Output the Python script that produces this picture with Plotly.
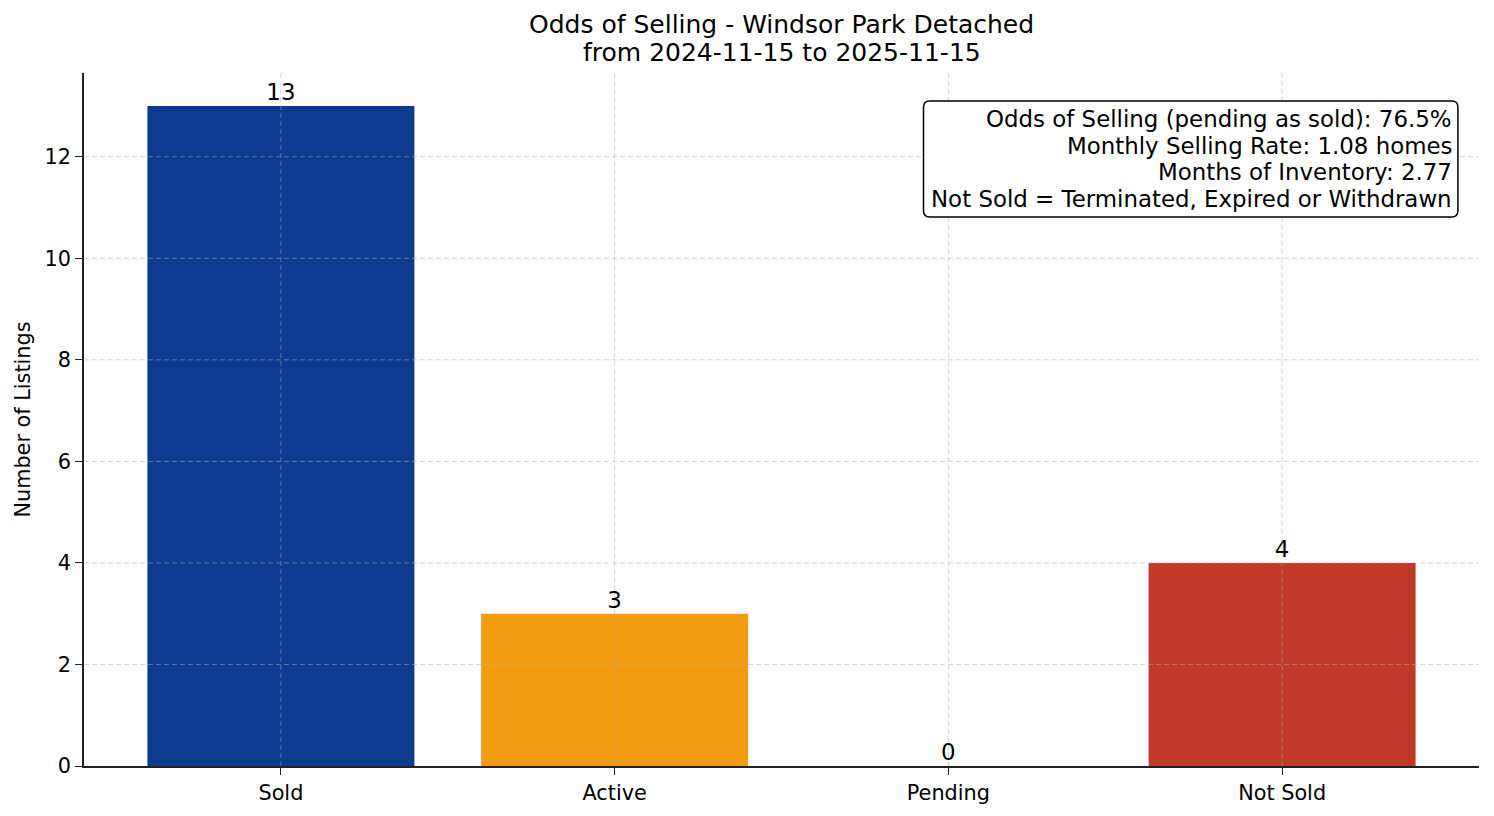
import plotly.graph_objects as go

# listing counts by status
statuses = ['Sold', 'Active', 'Pending', 'Not Sold']
counts = [13, 3, 0, 4]
bar_colors = ['#0b3a8e', '#f39c12', '#9b59b6', '#c0392b']

y_ticks = [0, 2, 4, 6, 8, 10, 12]

title_line1 = 'Odds of Selling - Windsor Park Detached'
title_line2 = 'from 2024-11-15 to 2025-11-15'

stats_lines = [
    'Odds of Selling (pending as sold): 76.5%',
    'Monthly Selling Rate: 1.08 homes',
    'Months of Inventory: 2.77',
    'Not Sold = Terminated, Expired or Withdrawn',
]

FONT = 'DejaVu Sans'

fig = go.Figure()
fig.add_trace(go.Bar(x=statuses, y=counts, width=0.8,
                     marker=dict(color=bar_colors, line=dict(width=0)),
                     showlegend=False, hoverinfo='x+y'))
# value labels above each bar (a zero bar still gets its label)
fig.add_trace(go.Scatter(x=statuses, y=counts, mode='text',
                         text=[str(c) for c in counts], textposition='top center',
                         textfont=dict(family=FONT, size=22.9, color='black'),
                         showlegend=False, hoverinfo='skip'))

# dashed grid drawn on top of the bars, like the original
grid = dict(color='rgba(175,175,175,0.55)', width=1, dash='5px,3px')
for v in y_ticks[1:]:
    fig.add_shape(type='line', xref='paper', yref='y', x0=0, x1=1, y0=v, y1=v,
                  line=grid, layer='above')
for s in statuses:
    fig.add_shape(type='line', xref='x', yref='paper', x0=s, x1=s, y0=0, y1=1,
                  line=grid, layer='above')


def rounded_box(x0, y0, x1, y1, rx, ry):
    return (f'M {x0+rx},{y0} L {x1-rx},{y0} Q {x1},{y0} {x1},{y0+ry} '
            f'L {x1},{y1-ry} Q {x1},{y1} {x1-rx},{y1} L {x0+rx},{y1} '
            f'Q {x0},{y1} {x0},{y1-ry} L {x0},{y0+ry} Q {x0},{y0} {x0+rx},{y0} Z')


# stats box (rounded corners), one annotation per line for tight spacing
fig.add_shape(type='path', xref='paper', yref='paper',
              path=rounded_box(0.6018, 0.7922, 0.9849, 0.9596, 0.0045, 0.009),
              line=dict(color='black', width=1.5), fillcolor='white', layer='above')
for i, line in enumerate(stats_lines):
    fig.add_annotation(text=line, xref='paper', yref='paper',
                       x=0.9822, y=0.9336 - i * 0.0385, xanchor='right', yanchor='middle',
                       showarrow=False, font=dict(family=FONT, size=22.9, color='black'))

fig.add_annotation(text=title_line1, xref='paper', yref='paper', x=0.5, y=1.0693,
                   xanchor='center', yanchor='middle', showarrow=False,
                   font=dict(family=FONT, size=25, color='black'))
fig.add_annotation(text=title_line2, xref='paper', yref='paper', x=0.5, y=1.0289,
                   xanchor='center', yanchor='middle', showarrow=False,
                   font=dict(family=FONT, size=25, color='black'))

fig.update_xaxes(type='category', range=[-0.59, 3.59], showgrid=False,
                 showline=True, linecolor='#222', linewidth=1.5,
                 ticks='outside', ticklen=7, tickwidth=1.3, tickcolor='#222',
                 tickfont=dict(family=FONT, size=20.8, color='black'))
fig.update_yaxes(range=[0, 13.65], tickvals=y_ticks, showgrid=False, zeroline=False,
                 showline=True, linecolor='#222', linewidth=1.5,
                 ticks='outside', ticklen=7, tickwidth=1.3, tickcolor='#222',
                 tickfont=dict(family=FONT, size=20.8, color='black'),
                 title=dict(text='Number of Listings', standoff=8,
                            font=dict(family=FONT, size=20.8, color='black')))

# page body adds an 8px offset, so the figure is a bit smaller with shifted margins
fig.update_layout(width=1486, height=808, plot_bgcolor='white', paper_bgcolor='white',
                  margin=dict(l=76, r=15, t=65, b=50, autoexpand=False),
                  font=dict(family=FONT), bargap=0.2)

fig.write_html('out.html')
